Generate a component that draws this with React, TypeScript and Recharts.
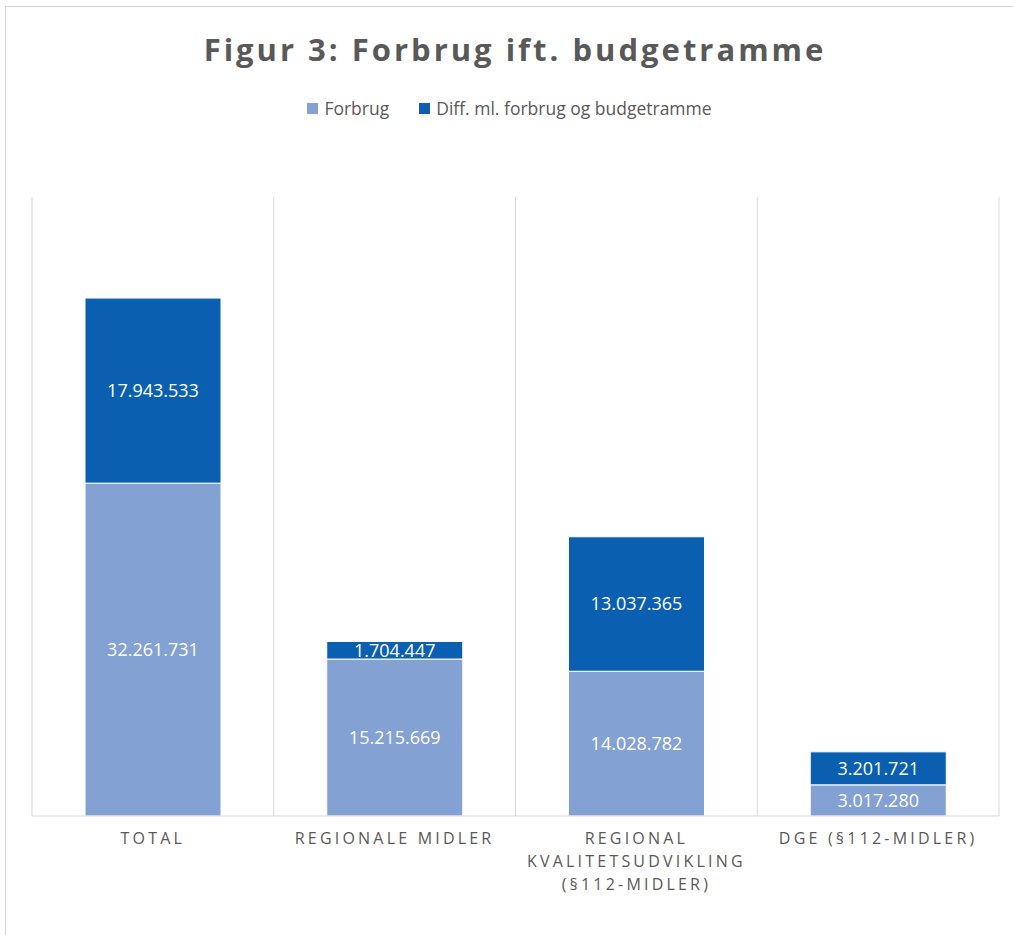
import React from "react";
import {
  BarChart,
  Bar,
  XAxis,
  YAxis,
  CartesianGrid,
  LabelList,
  Legend,
} from "recharts";

const categories = [
  "Total",
  "Regionale midler",
  "Regional kvalitetsudvikling (§112-midler)",
  "DGE (§112-midler)",
];
const forbrug = [32261731, 15215669, 14028782, 3017280];
const diff = [17943533, 1704447, 13037365, 3201721];

const data = categories.map((name, i) => ({
  name,
  forbrug: forbrug[i],
  diff: diff[i],
}));

const FONT = "'Open Sans', 'DejaVu Sans', sans-serif";
const GREY = "#595959";
const LIGHT = "#84a1d3";
const DARK = "#0b5fb0";

const fmt = (v: number) => v.toLocaleString("de-DE");

function wrap(text: string, max: number) {
  const words = text.toUpperCase().split(" ");
  const lines: string[] = [];
  let cur = "";
  for (const w of words) {
    if (cur && (cur + " " + w).length > max) {
      lines.push(cur);
      cur = w;
    } else {
      cur = cur ? cur + " " + w : w;
    }
  }
  if (cur) lines.push(cur);
  return lines;
}

function Tick({ x, y, payload }: any) {
  const lines = wrap(payload.value, 20);
  return (
    <text
      x={x}
      y={y + 20}
      textAnchor="middle"
      fill={GREY}
      fontSize={16}
      fontFamily={FONT}
      letterSpacing={3.2}
    >
      {lines.map((l, i) => (
        <tspan key={i} x={x} dy={i === 0 ? 0 : 23}>
          {l}
        </tspan>
      ))}
    </text>
  );
}

function LegendContent() {
  const items = [
    { label: "Forbrug", color: LIGHT },
    { label: "Diff. ml. forbrug og budgetramme", color: DARK },
  ];
  return (
    <div
      style={{
        display: "flex",
        justifyContent: "center",
        gap: 30,
        fontFamily: FONT,
        fontSize: 17.5,
        color: GREY,
        lineHeight: "22px",
      }}
    >
      {items.map((it) => (
        <div key={it.label} style={{ display: "flex", alignItems: "center" }}>
          <span
            style={{
              width: 11,
              height: 11,
              background: it.color,
              display: "inline-block",
              marginRight: 6,
            }}
          />
          {it.label}
        </div>
      ))}
    </div>
  );
}

export default function App() {
  return (
    <div
      style={{
        position: "absolute",
        top: 6,
        left: 5,
        width: 1008,
        height: 929,
        borderTop: "1px solid #d4d4d4",
        borderLeft: "1px solid #d4d4d4",
        background: "#fff",
      }}
    >
      <div
        style={{
          position: "absolute",
          top: 21,
          left: 5,
          width: "100%",
          textAlign: "center",
          fontFamily: FONT,
          fontWeight: 700,
          fontSize: 31,
          letterSpacing: 3,
          color: GREY,
        }}
      >
        Figur 3: Forbrug ift. budgetramme
      </div>
      <BarChart
        width={1007}
        height={928}
        data={data}
        margin={{ top: 168, right: 14, bottom: 19, left: 26 }}
      >
        <CartesianGrid
          horizontal={false}
          stroke="#d9d9d9"
          verticalCoordinatesGenerator={({ offset }: any) =>
            [0, 1, 2, 3, 4].map((i) => offset.left + (i * offset.width) / 4)
          }
        />
        <XAxis
          dataKey="name"
          axisLine={{ stroke: "#d9d9d9" }}
          tickLine={false}
          interval={0}
          height={100}
          tick={<Tick />}
        />
        <YAxis hide domain={[0, 60000000]} />
        <Legend
          verticalAlign="top"
          content={<LegendContent />}
          wrapperStyle={{ top: 90, left: 0, width: "100%" }}
        />
        <Bar
          dataKey="forbrug"
          stackId="a"
          fill={LIGHT}
          stroke="#fff"
          strokeWidth={1}
          barSize={136}
          isAnimationActive={false}
        >
          <LabelList
            dataKey="forbrug"
            position="center"
            formatter={fmt as any}
            fill="#fff"
            fontSize={18}
            fontFamily={FONT}
          />
        </Bar>
        <Bar
          dataKey="diff"
          stackId="a"
          fill={DARK}
          stroke="#fff"
          strokeWidth={1}
          barSize={136}
          isAnimationActive={false}
        >
          <LabelList
            dataKey="diff"
            position="center"
            formatter={fmt as any}
            fill="#fff"
            fontSize={18}
            fontFamily={FONT}
          />
        </Bar>
      </BarChart>
    </div>
  );
}
